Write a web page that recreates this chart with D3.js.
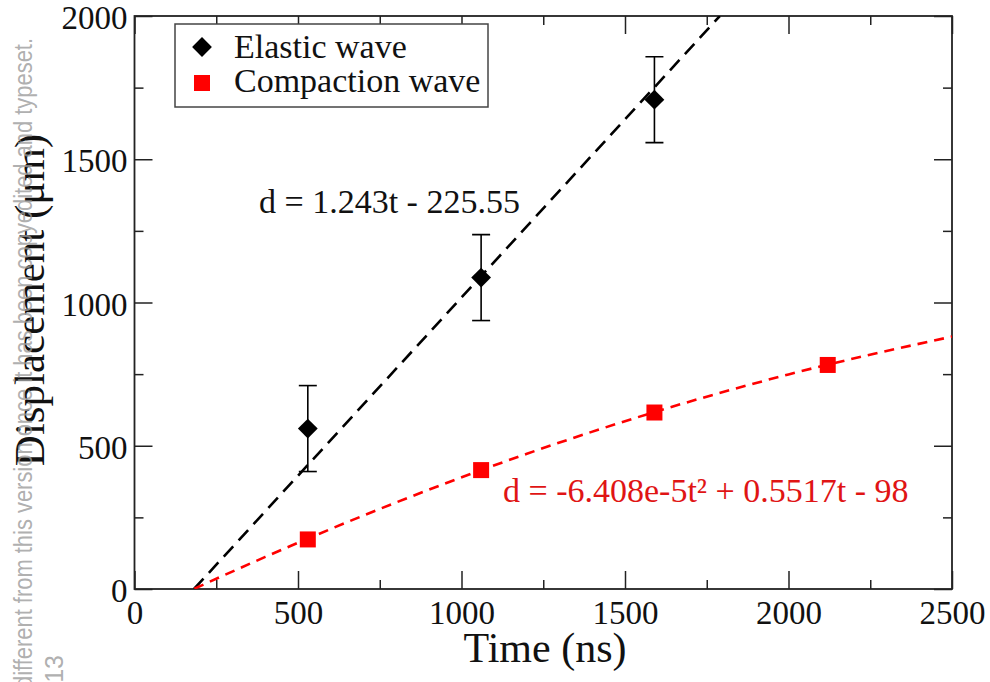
<!DOCTYPE html>
<html>
<head>
<meta charset="utf-8">
<script src="https://cdn.jsdelivr.net/npm/d3@7"></script>
<style>
  html, body { margin: 0; padding: 0; background: #fff; }
  svg { display: block; }
  text { font-family: "Liberation Serif", "Times New Roman", serif; }
</style>
</head>
<body>
<svg id="chart" width="990" height="682"></svg>
<script>
// ---- data ----
const elasticTime = [530, 1060, 1590];
const elasticDisp = [560, 1087, 1708];
const elasticErr = [150, 150, 150];

const compactionTime = [530, 1060, 1590, 2120];
const compactionDisp = [173, 415, 616, 782];

// fit lines (values of the shown fit equations)
const elasticFitTime = [182, 1790];
const elasticFitDisp = [0, 2000];
const compactionFitTime = [183, 400, 800, 1200, 1600, 2000, 2500];
const compactionFitDisp = [1, 112, 302, 472, 621, 749, 881];

const xMajorTicks = [0, 500, 1000, 1500, 2000, 2500];
const xMinorTicks = [250, 750, 1250, 1750, 2250];
const yMajorTicks = [0, 500, 1000, 1500, 2000];
const yMinorTicks = [250, 750, 1250, 1750];

const legendLabels = ["Elastic wave", "Compaction wave"];
const elasticEquation = "d = 1.243t - 225.55";
const compactionEquation = "d = -6.408e-5t\u00B2 + 0.5517t - 98";
const xTitle = "Time (ns)";
const yTitle = "Displacement (\u03BCm)";
const watermark1 = "different from this version once it has been copyedited and typeset.";
const watermark2 = "13";

// ---- layout ----
const svg = d3.select("#chart");
const pL = 134.5, pR = 952, pT = 16, pB = 589;
const x = d3.scaleLinear().domain([0, 2500]).range([pL, pR]);
const y = d3.scaleLinear().domain([0, 2000]).range([pB, pT]);

const RED = "#ff0000";
const TXT_RED = "#e01414";
const SERIF = "'Liberation Serif', 'Times New Roman', serif";

// clip
svg.append("defs").append("clipPath").attr("id", "plotclip")
  .append("rect").attr("x", pL).attr("y", pT).attr("width", pR - pL).attr("height", pB - pT);

// axes: major & minor ticks, inward
function styleAxis(g) {
  g.attr("font-family", SERIF).attr("font-size", 33);
  g.select(".domain").remove();
  g.selectAll(".tick line").attr("stroke", "#222").attr("stroke-width", 1.5);
  g.selectAll("text").attr("font-size", 33).attr("fill", "#111")
    .attr("font-family", SERIF).style("font-family", SERIF);
}

svg.append("g").attr("transform", `translate(0,${pB})`)
  .call(d3.axisBottom(x).tickValues(xMajorTicks).tickSize(-18).tickPadding(11).tickFormat(d3.format("d")))
  .call(styleAxis)
  .selectAll("text").attr("dy", "0.72em");
svg.append("g").attr("transform", `translate(0,${pB})`)
  .call(d3.axisBottom(x).tickValues(xMinorTicks).tickSize(-9).tickFormat(""))
  .call(styleAxis);
svg.append("g").attr("transform", `translate(0,${pT})`)
  .call(d3.axisTop(x).tickValues(xMajorTicks).tickSize(-18).tickFormat(""))
  .call(styleAxis);
svg.append("g").attr("transform", `translate(0,${pT})`)
  .call(d3.axisTop(x).tickValues(xMinorTicks).tickSize(-9).tickFormat(""))
  .call(styleAxis);

svg.append("g").attr("transform", `translate(${pL},0)`)
  .call(d3.axisLeft(y).tickValues(yMajorTicks).tickSize(-18).tickPadding(7).tickFormat(d3.format("d")))
  .call(styleAxis)
  .selectAll("text").attr("dy", "0.38em");
svg.append("g").attr("transform", `translate(${pL},0)`)
  .call(d3.axisLeft(y).tickValues(yMinorTicks).tickSize(-9).tickFormat(""))
  .call(styleAxis);
svg.append("g").attr("transform", `translate(${pR},0)`)
  .call(d3.axisRight(y).tickValues(yMajorTicks).tickSize(-18).tickFormat(""))
  .call(styleAxis);
svg.append("g").attr("transform", `translate(${pR},0)`)
  .call(d3.axisRight(y).tickValues(yMinorTicks).tickSize(-9).tickFormat(""))
  .call(styleAxis);

// frame
svg.append("rect").attr("x", pL).attr("y", pT).attr("width", pR - pL).attr("height", pB - pT)
  .attr("fill", "none").attr("stroke", "#222").attr("stroke-width", 1.8);

const plot = svg.append("g").attr("clip-path", "url(#plotclip)");

// fit lines
const line = d3.line().x(d => x(d[0])).y(d => y(d[1]));
plot.append("path")
  .datum(elasticFitTime.map((t, i) => [t, elasticFitDisp[i]]))
  .attr("d", line)
  .attr("fill", "none").attr("stroke", "#000").attr("stroke-width", 2.6)
  .attr("stroke-dasharray", "14,8");

plot.append("path")
  .datum(compactionFitTime.map((t, i) => [t, compactionFitDisp[i]]))
  .attr("d", line.curve(d3.curveMonotoneX))
  .attr("fill", "none").attr("stroke", RED).attr("stroke-width", 2.6)
  .attr("stroke-dasharray", "10,7");

// error bars
const eb = plot.append("g").attr("stroke", "#000").attr("stroke-width", 1.6);
elasticTime.forEach((t, i) => {
  const cx = x(t), y1 = y(elasticDisp[i] + elasticErr[i]), y2 = y(elasticDisp[i] - elasticErr[i]);
  eb.append("line").attr("x1", cx).attr("x2", cx).attr("y1", y1).attr("y2", y2);
  eb.append("line").attr("x1", cx - 9).attr("x2", cx + 9).attr("y1", y1).attr("y2", y1);
  eb.append("line").attr("x1", cx - 9).attr("x2", cx + 9).attr("y1", y2).attr("y2", y2);
});

// markers
const dsz = 14;
plot.append("g").selectAll("rect").data(elasticTime).join("rect")
  .attr("x", -dsz / 2).attr("y", -dsz / 2).attr("width", dsz).attr("height", dsz)
  .attr("transform", (t, i) => `translate(${x(t)},${y(elasticDisp[i])}) rotate(45)`)
  .attr("fill", "#000");

const ssz = 16;
plot.append("g").selectAll("rect").data(compactionTime).join("rect")
  .attr("x", (t) => x(t) - ssz / 2).attr("y", (t, i) => y(compactionDisp[i]) - ssz / 2)
  .attr("width", ssz).attr("height", ssz).attr("fill", RED);

// equations
svg.append("text").attr("x", 259).attr("y", 213).attr("font-size", 34).attr("fill", "#111")
  .attr("font-family", SERIF).text(elasticEquation);
svg.append("text").attr("x", 503).attr("y", 502).attr("font-size", 34).attr("fill", TXT_RED)
  .attr("font-family", SERIF).text(compactionEquation);

// legend
const lg = svg.append("g");
lg.append("rect").attr("x", 175).attr("y", 24).attr("width", 313).attr("height", 83)
  .attr("fill", "#fff").attr("stroke", "#444").attr("stroke-width", 1.5);
lg.append("rect").attr("x", -dsz / 2).attr("y", -dsz / 2).attr("width", dsz).attr("height", dsz)
  .attr("transform", "translate(202,47) rotate(45)").attr("fill", "#000");
lg.append("rect").attr("x", 202 - 8).attr("y", 83 - 8).attr("width", 16).attr("height", 16).attr("fill", RED);
lg.append("text").attr("x", 234).attr("y", 58).attr("font-size", 34).attr("fill", "#111")
  .attr("font-family", SERIF).text(legendLabels[0]);
lg.append("text").attr("x", 234).attr("y", 92).attr("font-size", 34).attr("fill", "#111")
  .attr("font-family", SERIF).text(legendLabels[1]);

// axis titles
svg.append("text").attr("x", 545).attr("y", 662).attr("text-anchor", "middle")
  .attr("font-size", 42).attr("fill", "#111").attr("font-family", SERIF).text(xTitle);
svg.append("text").attr("transform", "translate(44,300) rotate(-90)").attr("text-anchor", "middle")
  .attr("font-size", 43).attr("fill", "#111").attr("font-family", SERIF).text(yTitle);

// watermark
const wm = svg.append("g").attr("fill", "#9a9a9a").attr("fill-opacity", 0.8)
  .style("font-family", "'Liberation Sans', Arial, sans-serif");
wm.append("text").attr("transform", "translate(32,688) rotate(-90)")
  .attr("font-size", 25).attr("textLength", 650).attr("lengthAdjust", "spacingAndGlyphs")
  .style("font-family", "'Liberation Sans', Arial, sans-serif")
  .text(watermark1);
wm.append("text").attr("transform", "translate(63,655) rotate(-90)").attr("text-anchor", "end")
  .attr("font-size", 25).style("font-family", "'Liberation Sans', Arial, sans-serif")
  .text(watermark2);
</script>
</body>
</html>
